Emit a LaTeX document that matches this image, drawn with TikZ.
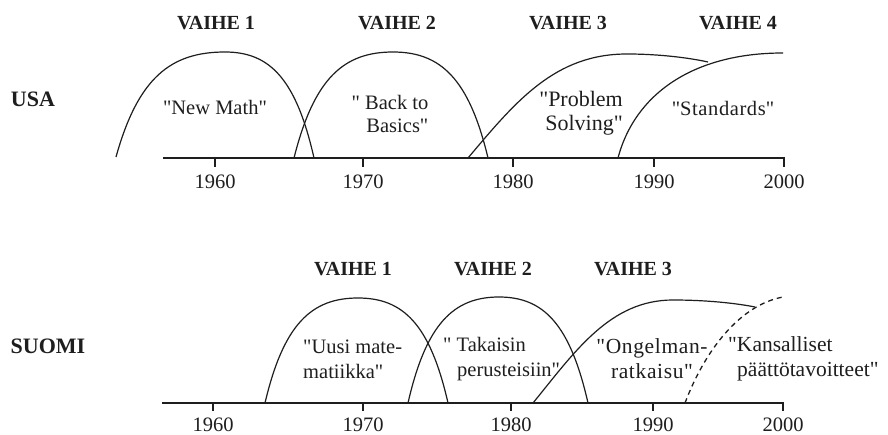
\documentclass[tikz,border=0pt]{standalone}
\usepackage{fontspec}
\setmainfont{Liberation Serif}[Ligatures=TeXOff]
\newfontfamily\widefont{Liberation Serif}[Ligatures=TeXOff, LetterSpace=3]
\definecolor{ink}{HTML}{1E1E1E}
\begin{document}
\begin{tikzpicture}[x=1pt,y=-1pt]
\tikzset{
  curve/.style={draw=ink, line width=1.2pt},
  dcurve/.style={draw=ink, line width=1.3pt, dash pattern=on 5pt off 4pt},
  axisline/.style={draw=ink, line width=1.3pt},
  yeartick/.style={draw=ink, line width=1.2pt},
  phase/.style={font=\bfseries\fontsize{20}{22}\selectfont, inner sep=0pt, text=ink},
  country/.style={font=\bfseries\fontsize{22}{24}\selectfont, inner sep=0pt, text=ink},
  year/.style={font=\fontsize{20.5}{22}\selectfont, inner sep=0pt, text=ink},
  lab/.style={font=\fontsize{20.5}{23.5}\selectfont, inner sep=0pt, text=ink},
  labbig/.style={font=\fontsize{22}{24}\selectfont, inner sep=0pt, text=ink},
  labfi/.style={font=\fontsize{20.5}{25}\selectfont, inner sep=0pt, text=ink},
  labfiwide/.style={font=\widefont\fontsize{21.5}{25}\selectfont, inner sep=0pt, text=ink},
  labfibig/.style={font=\fontsize{21.5}{25}\selectfont, inner sep=0pt, text=ink},
}
\useasboundingbox[fill=white] (0,0) rectangle (888,435);

% ---------------- USA ----------------
\node[country] (usa) at (33,99) {USA};
\node[phase] (uv1) at (216,23) {VAIHE 1};
\node[phase] (uv2) at (397,23) {VAIHE 2};
\node[phase] (uv3) at (568,23) {VAIHE 3};
\node[phase] (uv4) at (738,23) {VAIHE 4};

\coordinate (ua0) at (163,158);
\coordinate (ua1) at (784,158);
\draw[axisline] (ua0) -- (ua1);
\foreach \x/\y in {215/1960,363/1970,513/1980,654/1990,784/2000}{
  \draw[yeartick] (\x,157) -- (\x,167);
  \node[year] (uy\y) at (\x,182) {\y};
}

% arcs
\draw[curve] (116,157) .. controls (138,78) and (170.5,52) .. (225,52)
             .. controls (269.5,52) and (296,78.5) .. (314,158);
\draw[curve] (294,158) .. controls (314,78.5) and (343.5,52) .. (393,52)
             .. controls (440.5,52) and (469,78.5) .. (488,158);
\draw[curve] (468,158) .. controls (516,101) and (555,54) .. (627,54)
             .. controls (660,54) and (690,58) .. (708,62);
\draw[curve] (618,158) .. controls (634.5,95) and (692,53) .. (783,53);

\node[lab] (newmath) at (215,107) {"New Math"};
\node[lab, align=right] (back) at (390,114) {" Back to\\Basics"};
\node[labbig, align=right, anchor=east] (probl) at (623,113) {"Problem\\Solving"};
\node[lab] (stand) at (723,108) {"S\kern.6pt t\kern.6pt a\kern.6pt n\kern.6pt d\kern.6pt a\kern.6pt r\kern.6pt d\kern.6pt s"};

% ---------------- SUOMI ----------------
\node[country] (suomi) at (48,346) {SUOMI};
\node[phase] (sv1) at (353,269) {VAIHE 1};
\node[phase] (sv2) at (493,269) {VAIHE 2};
\node[phase] (sv3) at (633,269) {VAIHE 3};

\coordinate (sa0) at (162,403);
\coordinate (sa1) at (783,403);
\draw[axisline] (sa0) -- (sa1);
\foreach \x/\y in {213/1960,363/1970,511/1980,653/1990,783/2000}{
  \draw[yeartick] (\x,402) -- (\x,411);
  \node[year] (sy\y) at (\x,425) {\y};
}

\draw[curve] (265,403) .. controls (283.6,324) and (311.5,298) .. (358,298)
             .. controls (403,298) and (430,324) .. (448,403);
\draw[curve] (408,403) .. controls (426,324) and (453.5,297) .. (499,297)
             .. controls (543.5,297) and (570,324) .. (588,403);
\draw[curve] (533,403) .. controls (575,351.5) and (610,300) .. (673,300)
             .. controls (705,300) and (735,303) .. (755,307);
\draw[dcurve] (685,403) .. controls (705,350) and (740,305) .. (783,297);

\node[labfi, align=left, anchor=west] (uusi) at (303,359) {"Uusi mate-\\matiikka"};
\node[labfi, align=left, anchor=west] (taka) at (443,359) {" Takaisin\\\hspace*{14pt}perusteisiin"};
\node[labfiwide, align=center] (ongel) at (652,359) {"Ongelman-\\ratkaisu"};
\node[labfibig, align=left, anchor=west] (kans) at (728,359) {"Kansalliset\\\hspace*{9pt}päättötavoitteet"};
\end{tikzpicture}
\end{document}
